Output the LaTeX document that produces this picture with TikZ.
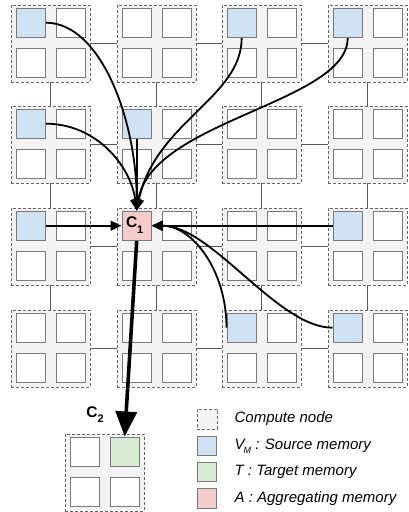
\documentclass[tikz,border=0pt]{standalone}
\usepackage{fontspec}
\setmainfont{Liberation Sans}
\usetikzlibrary{arrows.meta}
\definecolor{boxfill}{HTML}{F3F3F3}
\definecolor{boxline}{HTML}{666666}
\definecolor{sqline}{HTML}{7A7A7A}
\definecolor{srcblue}{HTML}{CFE2F3}
\definecolor{tgtgreen}{HTML}{D9EAD3}
\definecolor{aggred}{HTML}{F4CCCC}
\definecolor{linkgray}{HTML}{595959}
\begin{document}
\begin{tikzpicture}[x=1pt,y=-1pt,
  cnode/.style={draw=boxline, fill=boxfill, dash pattern=on 3pt off 2pt, line width=0.9pt,
    minimum width=79pt, minimum height=77pt, inner sep=0pt, anchor=north west},
  mem/.style={draw=sqline, fill=white, line width=1.4pt, minimum size=29pt, inner sep=0pt, anchor=north west},
  link/.style={draw=linkgray, line width=0.8pt},
  flow/.style={draw=black, line width=1.8pt, -{Triangle[length=11pt,width=10pt]}},
  bigflow/.style={draw=black, line width=3.6pt, -{Triangle[length=25pt,width=21pt]}},
  clabel/.style={font=\fontsize{15.5}{15.5}\selectfont\bfseries, inner sep=0pt},
  legtext/.style={font=\fontsize{15}{18}\selectfont\itshape, inner sep=0pt, anchor=west},
  sq00-1/.style={fill=srcblue}, sq02-1/.style={fill=srcblue}, sq03-1/.style={fill=srcblue},
  sq10-1/.style={fill=srcblue}, sq11-1/.style={fill=srcblue},
  sq20-1/.style={fill=srcblue}, sq23-1/.style={fill=srcblue}, sq21-1/.style={fill=aggred},
  sq32-1/.style={fill=srcblue}, sq33-1/.style={fill=srcblue}]
\useasboundingbox (0,0) rectangle (408,512);

% grid of compute nodes
\foreach \r/\Y in {0/4.5,1/105.5,2/207.5,3/309.5} {
  \foreach \c/\X in {0/10.5,1/116.5,2/221.5,3/327.5} {
    \node[cnode] (n\r\c) at (\X,\Y) {};
    \node[mem, sq\r\c-1/.try] (n\r\c-1) at (\X+5,\Y+3) {};
    \node[mem] (n\r\c-2) at (\X+45,\Y+3) {};
    \node[mem] (n\r\c-3) at (\X+5,\Y+43) {};
    \node[mem] (n\r\c-4) at (\X+45,\Y+43) {};
  }
}
% interconnect links
\foreach \r in {0,1,2,3} {
  \foreach \c/\d in {0/1,1/2,2/3} {
    \draw[link] (n\r\c.east) -- (n\r\d.west);
  }
}
\foreach \r/\s in {0/1,1/2,2/3} {
  \foreach \c in {0,1,2,3} {
    \draw[link] (n\r\c.south) -- (n\s\c.north);
  }
}

% C1 label
\node[clabel] (c1lab) at ([xshift=-2pt,yshift=0.5pt]n21-1.center) {C\raisebox{-6.5pt}{\fontsize{11}{11}\selectfont 1}};

% C2 compute node
\node[cnode] (c2) at (64.5,433.5) {};
\node[mem] (c2-1) at (69.5,436.5) {};
\node[mem, fill=tgtgreen] (c2-2) at (109.5,436.5) {};
\node[mem] (c2-3) at (69.5,476.5) {};
\node[mem] (c2-4) at (109.5,476.5) {};
\node[clabel] (c2lab) at (95,415) {C\raisebox{-5pt}{\fontsize{11}{11}\selectfont 2}};

% flows into C1
\draw[flow] (n00-1.east) .. controls +(55,0) and +(0,-90) .. (n21-1.north);
\draw[flow] (n10-1.east) .. controls +(50,0) and +(-6,-45) .. (n21-1.north);
\draw[flow] (n11-1.south) -- (n21-1.north);
\draw[flow] (n02-1.south) .. controls +(0,60) and +(18,-88) .. (n21-1.north);
\draw[flow] (n03-1.south) .. controls +(0,65) and +(14,-90) .. (n21-1.north);
\draw[flow] (n20-1.east) -- (n21-1.west);
\draw[flow] (n23-1.west) -- (n21-1.east);
\draw[flow] (n32-1.west) .. controls +(0,-58) and +(40,0) .. (n21-1.east);
\draw[flow] (n33-1.west) .. controls +(-55,0) and +(60,0) .. (n21-1.east);

% C1 to C2
\draw[bigflow] (n21-1.south) -- (c2-2.north);

% legend
\node[cnode, minimum width=20pt, minimum height=20pt] (lg0) at (196.5,408.5) {};
\node[mem, minimum size=19.5pt, fill=srcblue] (lg1) at (196.5,435.5) {};
\node[mem, minimum size=19.5pt, fill=tgtgreen] (lg2) at (196.5,461.5) {};
\node[mem, minimum size=19.5pt, fill=aggred] (lg3) at (196.5,488) {};
\node[legtext] (lt0) at ([xshift=17pt]lg0.east) {Compute node};
\node[legtext] (lt1) at ([xshift=17pt]lg1.east) {V\kern-1pt\raisebox{-4pt}{\fontsize{9}{9}\selectfont M} : Source memory};
\node[legtext] (lt2) at ([xshift=17pt]lg2.east) {T : Target memory};
\node[legtext] (lt3) at ([xshift=17pt]lg3.east) {A : Aggregating memory};
\end{tikzpicture}
\end{document}
